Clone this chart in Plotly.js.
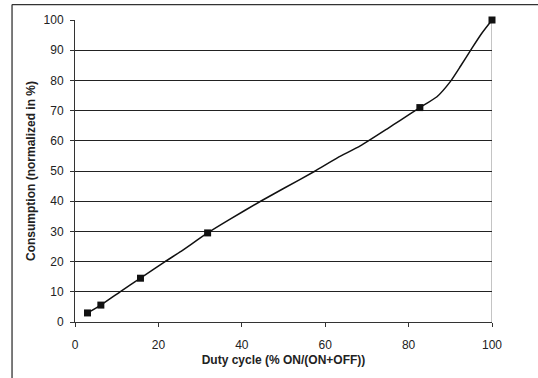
<!DOCTYPE html>
<html>
<head>
<script src="https://cdn.plot.ly/plotly-3.0.1.min.js"></script>
<style>html,body{margin:0;padding:0;background:#fff;}</style>
</head>
<body>
<div id="chart" style="width:538px;height:378px;"></div>
<script>
// Measured points (markers)
const dutyMarkers = [3.0, 6.2, 15.7, 31.8, 82.7, 100];
const consMarkers = [3.0, 5.6, 14.5, 29.5, 71.0, 100];
// Curve readings (line)
const dutyCurve = [3.0, 6.2, 10.8, 15.7, 21.6, 25.2, 31.8, 37, 44.4, 50, 57.6, 63, 68.4, 74.8, 78, 82.7, 86.8, 90, 92.4, 95.2, 97.6, 100];
const consCurve = [3.0, 5.6, 10.0, 14.5, 20.0, 23.2, 29.5, 33.9, 39.9, 44.2, 50.0, 54.4, 58.3, 63.9, 66.8, 71.0, 74.6, 79.6, 84.6, 90.7, 95.7, 100];
const xTicks = [0, 20, 40, 60, 80, 100];
const yTicks = [0, 10, 20, 30, 40, 50, 60, 70, 80, 90, 100];

const traces = [
  {x: dutyCurve, y: consCurve, mode: 'lines', line: {color: '#111', width: 1.5, shape: 'spline', smoothing: 0.5}, hoverinfo: 'skip', cliponaxis: false},
  {x: dutyMarkers, y: consMarkers, mode: 'markers', marker: {symbol: 'square', size: 7, color: '#111'}, cliponaxis: false}
];

const layout = {
  width: 538, height: 378,
  margin: {l: 75, r: 46.3, t: 20.3, b: 56.3},
  paper_bgcolor: '#fff', plot_bgcolor: '#fff',
  showlegend: false,
  font: {family: 'Liberation Sans, Arial, sans-serif', size: 12, color: '#222'},
  xaxis: {
    range: [0, 100], tickvals: xTicks, ticktext: xTicks.map(String),
    showgrid: false, zeroline: false, showline: true, linecolor: '#333', linewidth: 1,
    ticks: 'outside', ticklen: 4, tickcolor: '#333', ticklabelstandoff: 8,
    title: {text: 'Duty cycle (% ON/(ON+OFF))', font: {size: 12, color: '#222', weight: 'bold'}, standoff: 4}
  },
  yaxis: {
    range: [0, 100], tickvals: yTicks, ticktext: yTicks.map(String),
    showgrid: true, gridcolor: '#222', gridwidth: 1,
    zeroline: false, showline: true, linecolor: '#333', linewidth: 1,
    ticks: 'outside', ticklen: 4, tickcolor: '#333', ticklabelstandoff: 4,
    title: {text: 'Consumption (normalized in %)', font: {size: 12, color: '#222', weight: 'bold'}, standoff: 5}
  },
  shapes: [
    {type: 'line', xref: 'x', yref: 'y', x0: 100, x1: 100, y0: 0, y1: 100, line: {color: '#888', width: 1}, layer: 'below'},
    {type: 'line', xref: 'paper', yref: 'paper', x0: -0.151, x1: 1.2, y0: 1.051, y1: 1.051, line: {color: '#333', width: 1.3}},
    {type: 'line', xref: 'paper', yref: 'paper', x0: -0.151, x1: -0.151, y0: 1.051, y1: -0.3, line: {color: '#333', width: 1.3}}
  ]
};

Plotly.newPlot('chart', traces, layout, {displayModeBar: false, staticPlot: true});
</script>
</body>
</html>
